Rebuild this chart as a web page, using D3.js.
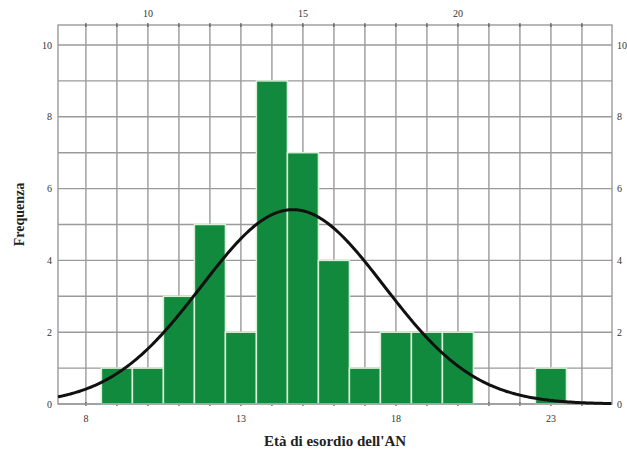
<!DOCTYPE html>
<html>
<head>
<meta charset="utf-8">
<script src="https://cdn.jsdelivr.net/npm/d3@7"></script>
<style>
  body { margin: 0; background: #fff; }
  text { font-family: "Liberation Serif", "Times New Roman", serif; }
</style>
</head>
<body>
<div id="viz"></div>
<script>
// histogram bins (centre of each one-year bin) and counts
const binCentres = [9, 10, 11, 12, 13, 14, 15, 16, 17, 18, 19, 20, 23];
const counts = [1, 1, 3, 5, 2, 9, 7, 4, 1, 2, 2, 2, 1];
const bottomTicks = [8, 13, 18, 23];
const topTicks = [10, 15, 20];
const yTicks = [0, 2, 4, 6, 8, 10];

const width = 627;
const height = 452;
const margin = { top: 25, right: 15, bottom: 48, left: 58 };

const svg = d3.select("#viz")
  .append("svg")
    .attr("width", width)
    .attr("height", height);

const x = d3.scaleLinear()
  .domain([7.1, 24.97])
  .range([margin.left, width - margin.right]);

const y = d3.scaleLinear()
  .domain([0, 10])
  .range([404, 45]);

const plotTop = margin.top;
const plotBottom = y(0);

// grid
const grid = svg.append("g")
  .attr("stroke", "#9a9a9a")
  .attr("stroke-width", 1.4);

grid.selectAll(".vg")
  .data(d3.range(8, 25))
  .join("line")
    .attr("x1", d => x(d)).attr("x2", d => x(d))
    .attr("y1", plotTop).attr("y2", plotBottom);

grid.selectAll(".hg")
  .data(d3.range(1, 11))
  .join("line")
    .attr("x1", x.range()[0]).attr("x2", x.range()[1])
    .attr("y1", d => y(d)).attr("y2", d => y(d));

// frame
svg.append("rect")
  .attr("x", x.range()[0])
  .attr("y", plotTop)
  .attr("width", x.range()[1] - x.range()[0])
  .attr("height", plotBottom - plotTop)
  .attr("fill", "none")
  .attr("stroke", "#9a9a9a")
  .attr("stroke-width", 1.4);

// small tick marks at top and bottom
const tickG = svg.append("g").attr("stroke", "#555").attr("stroke-width", 1.2);
tickG.selectAll(".tt")
  .data(d3.range(8, 25))
  .join("line")
    .attr("x1", d => x(d)).attr("x2", d => x(d))
    .attr("y1", plotTop - 2).attr("y2", plotTop + 2);
tickG.selectAll(".bt")
  .data(d3.range(8, 25))
  .join("line")
    .attr("x1", d => x(d)).attr("x2", d => x(d))
    .attr("y1", plotBottom - 2).attr("y2", plotBottom + 2);

// bars
svg.append("g")
  .selectAll("rect")
  .data(binCentres.map((c, i) => ({ c, n: counts[i] })))
  .join("rect")
    .attr("x", d => x(d.c - 0.5))
    .attr("y", d => y(d.n))
    .attr("width", d => x(d.c + 0.5) - x(d.c - 0.5))
    .attr("height", d => y(0) - y(d.n))
    .attr("fill", "#128a3e")
    .attr("stroke", "#d8efd8")
    .attr("stroke-width", 1.5);

// baseline
svg.append("line")
  .attr("x1", x.range()[0]).attr("x2", x.range()[1])
  .attr("y1", plotBottom).attr("y2", plotBottom)
  .attr("stroke", "#9a9a9a").attr("stroke-width", 1.4);

// normal curve fitted to the counts
const n = d3.sum(counts);
const mean = d3.sum(binCentres, (c, i) => c * counts[i]) / n;
const sd = Math.sqrt(d3.sum(binCentres, (c, i) => counts[i] * (c - mean) ** 2) / (n - 1));
const curveX = d3.range(x.domain()[0], x.domain()[1] + 0.001, 0.05);
const line = d3.line()
  .x(d => x(d))
  .y(d => y(n / (sd * Math.sqrt(2 * Math.PI)) * Math.exp(-0.5 * ((d - mean) / sd) ** 2)));

svg.append("path")
  .datum(curveX)
  .attr("d", line)
  .attr("fill", "none")
  .attr("stroke", "#111")
  .attr("stroke-width", 3);

// tick labels
const lab = svg.append("g").attr("font-size", 10).attr("fill", "#333");
lab.selectAll(".bl")
  .data(bottomTicks)
  .join("text")
    .attr("x", d => x(d)).attr("y", plotBottom + 18)
    .attr("text-anchor", "middle")
    .text(d => d);
lab.selectAll(".tl")
  .data(topTicks)
  .join("text")
    .attr("x", d => x(d)).attr("y", plotTop - 8)
    .attr("text-anchor", "middle")
    .text(d => d);
lab.selectAll(".ll")
  .data(yTicks)
  .join("text")
    .attr("x", x.range()[0] - 6).attr("y", d => y(d) + 3.5)
    .attr("text-anchor", "end")
    .text(d => d);
lab.selectAll(".rl")
  .data(yTicks)
  .join("text")
    .attr("x", x.range()[1] + 5).attr("y", d => y(d) + 3.5)
    .attr("text-anchor", "start")
    .text(d => d);

// axis titles
svg.append("text")
  .attr("transform", `translate(24,${(plotTop + plotBottom) / 2}) rotate(-90)`)
  .attr("text-anchor", "middle")
  .attr("font-size", 14)
  .attr("font-weight", "bold")
  .attr("fill", "#222")
  .text("Frequenza");

svg.append("text")
  .attr("x", 335)
  .attr("y", 446)
  .attr("text-anchor", "middle")
  .attr("font-size", 15)
  .attr("font-weight", "bold")
  .attr("fill", "#222")
  .text("Età di esordio dell'AN");
</script>
</body>
</html>
